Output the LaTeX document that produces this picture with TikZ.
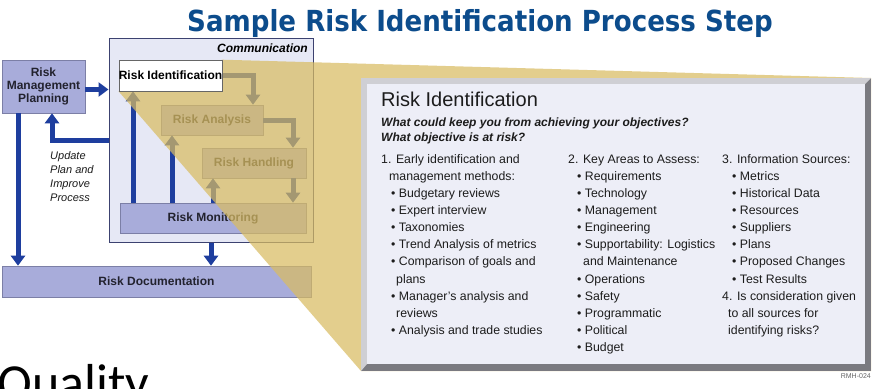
\documentclass[tikz,border=0pt]{standalone}
\usepackage{fontspec}
\setmainfont{Liberation Sans}
\newfontfamily\titlefont{DejaVu Sans Bold}[FakeStretch=0.9]
\newfontfamily\qualityfont{Carlito}
\usetikzlibrary{arrows.meta,positioning,calc}
\pgfdeclarelayer{back}
\pgfdeclarelayer{tint}
\pgfsetlayers{back,tint,main}

\definecolor{titleblue}{HTML}{0C4C8C}
\definecolor{flowblue}{HTML}{1E3E9E}
\definecolor{boxlav}{HTML}{A8ACDA}
\definecolor{boxline}{HTML}{7C7FA6}
\definecolor{boxtext}{HTML}{22222E}
\definecolor{commfill}{HTML}{E6E8F5}
\definecolor{commline}{HTML}{3C4270}
\definecolor{tintgold}{HTML}{D9BC62}
\definecolor{panelfill}{HTML}{EDEEF7}
\definecolor{bevellight}{HTML}{CFCFD4}
\definecolor{beveldark}{HTML}{7A7A80}
\definecolor{inktext}{HTML}{1C1C1C}

\tikzset{
  procbox/.style={draw=boxline, fill=boxlav, line width=0.6pt, minimum height=30pt,
    inner sep=0pt, text=boxtext, font=\bfseries\fontsize{12}{13}\selectfont},
  commbox/.style={draw=commline, fill=commfill, line width=1pt, minimum width=204pt,
    minimum height=204pt, inner sep=0pt},
  flow/.style={draw=flowblue, line width=5pt, -{Triangle[width=14pt,length=10pt]}},
  bodytext/.style={anchor=base west, inner sep=0pt, text=inktext,
    font=\fontsize{12.3}{15}\selectfont},
  notetext/.style={anchor=base west, inner sep=0pt, text=inktext,
    font=\itshape\fontsize{11}{13}\selectfont},
}

\begin{document}
\begin{tikzpicture}[x=1pt,y=-1pt]
\useasboundingbox (0,0) rectangle (872,388);

% first step sits above the tint
\node[procbox, fill=white, draw=black!60, text=black, minimum width=103pt, minimum height=31pt]
  (ident) at (170.5,75.5) {Risk Identification};

\begin{pgfonlayer}{back}
\fill[white] (0,0) rectangle (872,388);
% communication frame and the other steps
\node[commbox] (comm) at (211,140) {};
\node[procbox, minimum width=83pt, minimum height=53pt, align=center] (rmp) at (43.5,86.5)
  {Risk\\Management\\Planning};
\node[procbox, minimum width=102pt] (analysis) at (212,120) {Risk Analysis};
\node[procbox, minimum width=104pt] (handling) at (254,163) {Risk Handling};
\node[procbox, minimum width=186pt] (monitor) at (213,218) {Risk Monitoring};
\node[procbox, minimum width=309pt, minimum height=31pt] (docs) at (156.5,281.5) {Risk Documentation};

% planning in and out
\draw[flow] ([yshift=-3pt]rmp.east) -- ([yshift=-3pt]rmp.east -| comm.west);
\draw[flow] (comm.west) -| ([xshift=8.5pt]rmp.south);
\draw[flow] ([xshift=-25.5pt]rmp.south) -- ([xshift=-25.5pt]rmp.south |- docs.north);
\draw[flow] (comm.south) -- (comm.south |- docs.north);

% the cycle
\draw[flow] (ident.east) -| ([xshift=41pt]analysis.north);
\draw[flow] (analysis.east) -| ([xshift=39pt]handling.north);
\draw[flow] ([xshift=39pt]handling.south) -- ([xshift=39pt]handling.south |- monitor.north);
\draw[flow] ([xshift=-41pt]handling.south |- monitor.north) -- ([xshift=-41pt]handling.south);
\draw[flow] ([xshift=-40pt]analysis.south |- monitor.north) -- ([xshift=-40pt]analysis.south);
\draw[flow] ([xshift=-37.5pt]ident.south |- monitor.north) -- ([xshift=-37.5pt]ident.south);
\end{pgfonlayer}

\node[anchor=base east, inner sep=0pt, text=black, font=\bfseries\itshape\fontsize{12}{13}\selectfont]
  (commlabel) at (308,52) {Communication};
\foreach \t [count=\k from 0] in {Update, Plan and, Improve, Process}
  \node[notetext] (upd\k) at (50,{159+14*\k}) {\t};

% detail panel with bevel
\fill[beveldark] (361,78) rectangle (871,371);
\fill[bevellight] (361,78) -- (871,78) -- (865,84) -- (367,84) -- (367,364) -- (361,371) -- cycle;
\node[fill=panelfill, minimum width=498pt, minimum height=280pt, inner sep=0pt] (panel) at (616,224) {};

\node[anchor=base west, inner sep=0pt, text=inktext, font=\fontsize{20}{24}\selectfont]
  (head) at (381,106) {Risk Identification};
\node[bodytext, font=\bfseries\itshape\fontsize{12}{15}\selectfont] (ask1) at (381,126)
  {What could keep you from achieving your objectives?};
\node[bodytext, font=\bfseries\itshape\fontsize{12}{15}\selectfont] (ask2) at (381,141)
  {What objective is at risk?};

\foreach \dx/\t [count=\k from 0] in {0/1. Early identification and, 8/management methods:,
  10/• Budgetary reviews, 10/• Expert interview, 10/• Taxonomies, 10/• Trend Analysis of metrics,
  10/• Comparison of goals and, 15/plans, 10/• Manager's analysis and, 15/reviews,
  10/• Analysis and trade studies}
  \node[bodytext] (early\k) at ({381+\dx},{163.3+17.1*\k}) {\t};

\foreach \dx/\t [count=\k from 0] in {0/2. Key Areas to Assess:, 9/• Requirements, 9/• Technology,
  9/• Management, 9/• Engineering, 9/• Supportability: Logistics, 15/and Maintenance,
  9/• Operations, 9/• Safety, 9/• Programmatic, 9/• Political, 9/• Budget}
  \node[bodytext] (areas\k) at ({568+\dx},{163.3+17.1*\k}) {\t};

\foreach \dx/\t [count=\k from 0] in {0/3. Information Sources:, 10/• Metrics, 10/• Historical Data,
  10/• Resources, 10/• Suppliers, 10/• Plans, 10/• Proposed Changes, 10/• Test Results,
  0/4. Is consideration given, 6/to all sources for, 6/identifying risks?}
  \node[bodytext] (sources\k) at ({722+\dx},{163.3+17.1*\k}) {\t};

\node[anchor=base east, inner sep=0pt, text=black!60, font=\fontsize{7}{8}\selectfont]
  (code) at (871,378) {RMH-024};

% tint joining the step to its panel
\begin{pgfonlayer}{tint}
\fill[tintgold, fill opacity=0.72] (ident.south west) -- (ident.north east) -- (871,78)
  -- (871,371) -- (361,371) -- cycle;
\end{pgfonlayer}

\node[anchor=base, inner sep=0pt, text=titleblue, font=\titlefont\fontsize{29}{34}\selectfont]
  (title) at (480,31) {Sample Risk Identification Process Step};
\node[anchor=base west, inner sep=0pt, text=black, font=\qualityfont\fontsize{52}{60}\selectfont]
  (quality) at (-3,400) {Quality};
\end{tikzpicture}
\end{document}
